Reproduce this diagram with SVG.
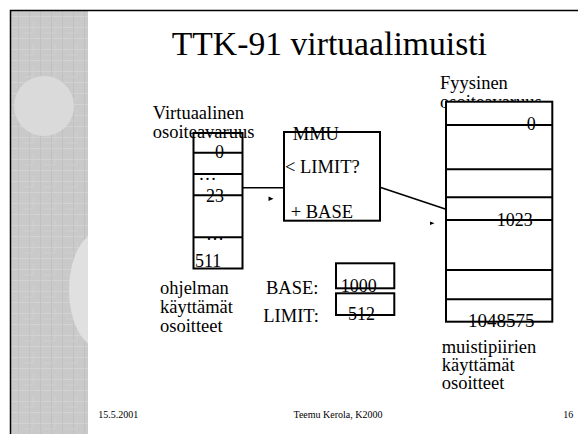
<svg xmlns="http://www.w3.org/2000/svg" width="578" height="434" viewBox="0 0 578 434" font-family="'Liberation Serif', 'Times New Roman', 'DejaVu Serif', serif">
  <style>
    text { font-family: "Liberation Serif", "Times New Roman", "DejaVu Serif", serif; fill: #000; }
    .lbl { font-size: 18.5px; }
    .num { font-size: 18px; }
    .foot { font-size: 10px; }
    .box { fill: none; stroke: #000; stroke-width: 2; }
    .boxw { fill: #fff; stroke: #000; stroke-width: 2; }
    .row { stroke: #000; stroke-width: 2; }
    .conn { stroke: #000; stroke-width: 1.6; fill: none; }
  </style>
  <defs>
    <pattern id="weave" width="22" height="22" patternUnits="userSpaceOnUse">
      <rect width="22" height="22" fill="#c9c9c9"/>
      <path d="M0 5.5H22M0 16.5H22" stroke="#d3d3d3" stroke-width="1"/>
      <path d="M7.5 0V22M18.5 0V22" stroke="#bfbfbf" stroke-width="0.8"/>
      <path d="M0 11H11M11 0V11" stroke="#d0d0d0" stroke-width="0.8"/>
    </pattern>
    <clipPath id="stripClip">
      <rect x="11" y="11" width="77" height="423"/>
    </clipPath>
  </defs>

  <!-- slide background -->
  <rect width="578" height="434" fill="#fff"/>
  <g id="side-strip" clip-path="url(#stripClip)">
    <rect x="11" y="11" width="77" height="423" fill="url(#weave)"/>
    <circle cx="44" cy="106" r="30" fill="#dadada"/>
    <ellipse cx="100" cy="290" rx="31" ry="58" fill="#e0e0e0"/>
  </g>
  <path d="M10.5 434V10.5H578" fill="none" stroke="#000" stroke-width="1.5"/>

  <!-- title -->
  <text x="171.7" y="55" style="font-size:33.7px">TTK-91 virtuaalimuisti</text>

  <!-- connectors -->
  <g id="connectors">
    <line class="conn" x1="243" y1="187.7" x2="284" y2="187.7"/>
    <polygon points="268.5,196.5 273.5,198.7 268.5,201" fill="#000"/>
    <line class="conn" x1="380" y1="187.3" x2="446" y2="209.3"/>
    <polygon points="430,221.5 434.5,223.3 430,225" fill="#000"/>
  </g>

  <!-- virtual address space -->
  <g id="virtual-space">
    <rect class="box" x="193.5" y="133" width="49" height="135.5"/>
    <line class="row" x1="193.5" y1="152.7" x2="242.5" y2="152.7"/>
    <line class="row" x1="193.5" y1="174" x2="242.5" y2="174"/>
    <line class="row" x1="193.5" y1="195.3" x2="242.5" y2="195.3"/>
    <line class="row" x1="193.5" y1="237.3" x2="242.5" y2="237.3"/>
    <text class="lbl" x="152.7" y="118.5">Virtuaalinen</text>
    <text class="lbl" x="152.7" y="137.5">osoiteavaruus</text>
    <text class="num" x="219.5" y="158" text-anchor="middle">0</text>
    <text class="num" x="198.5" y="179.5">…</text>
    <text class="num" x="206" y="201.5">23</text>
    <text class="num" x="206" y="239.5">…</text>
    <text class="num" x="195" y="266.7">511</text>
  </g>

  <g id="virtual-caption">
    <text class="lbl" x="160" y="294.3">ohjelman</text>
    <text class="lbl" x="160" y="313">käyttämät</text>
    <text class="lbl" x="160" y="331.7">osoitteet</text>
  </g>

  <!-- MMU -->
  <g id="mmu">
    <rect class="box" x="284" y="132" width="96" height="88.7"/>
    <text class="lbl" x="292.7" y="140">MMU</text>
    <text class="lbl" x="285" y="173.3">&lt; LIMIT?</text>
    <text class="lbl" x="290.7" y="218.3">+ BASE</text>
  </g>

  <!-- registers -->
  <g id="base-register">
    <text class="lbl" x="266" y="294.3">BASE:</text>
    <rect class="box" x="336" y="263.3" width="58.3" height="25"/>
    <text class="num" x="340.7" y="291.7">1000</text>
  </g>
  <g id="limit-register">
    <text class="lbl" x="263.3" y="321.7">LIMIT:</text>
    <rect class="box" x="336" y="293.3" width="58.3" height="21.7"/>
    <text class="num" x="348" y="320">512</text>
  </g>

  <!-- physical address space -->
  <g id="physical-space">
    <text class="lbl" x="440" y="89.3">Fyysinen</text>
    <text class="lbl" x="440" y="108">osoiteavaruus</text>
    <rect class="boxw" x="446" y="101.7" width="106.3" height="220"/>
    <line class="row" x1="446" y1="125" x2="552.3" y2="125"/>
    <line class="row" x1="446" y1="169.3" x2="552.3" y2="169.3"/>
    <line class="row" x1="446" y1="197.3" x2="552.3" y2="197.3"/>
    <line class="row" x1="446" y1="220" x2="552.3" y2="220"/>
    <line class="row" x1="446" y1="270" x2="552.3" y2="270"/>
    <line class="row" x1="446" y1="299.3" x2="552.3" y2="299.3"/>
    <text class="num" x="526.7" y="130">0</text>
    <text class="num" x="496.7" y="226">1023</text>
    <text class="num" x="468" y="326.7" style="font-size:19px">1048575</text>
  </g>

  <g id="physical-caption">
    <text class="lbl" x="441.7" y="353.3">muistipiirien</text>
    <text class="lbl" x="441.7" y="371.3">käyttämät</text>
    <text class="lbl" x="441.7" y="389.3">osoitteet</text>
  </g>

  <!-- footer -->
  <g id="footer">
    <text class="foot" x="98.3" y="418.3">15.5.2001</text>
    <text class="foot" x="338" y="418.3" text-anchor="middle">Teemu Kerola, K2000</text>
    <text class="foot" x="573.3" y="418.3" text-anchor="end">16</text>
  </g>
</svg>
